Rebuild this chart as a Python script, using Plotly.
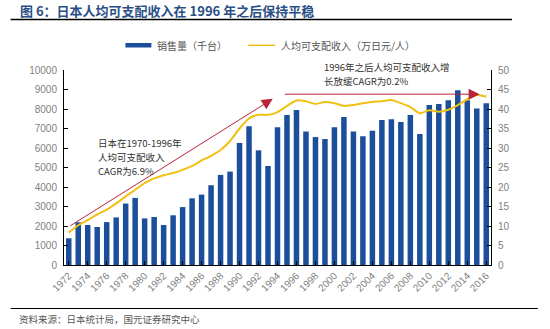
import plotly.graph_objects as go

# Japanese TV sales (thousand units) and per-capita disposable income (10k yen / person)
years = list(range(1972, 2017))
sales = [1370, 2190, 2050, 1950, 2200, 2440, 3150, 3440, 2390, 2460,
         2050, 2550, 2970, 3420, 3610, 4090, 4620, 4790, 6260, 7110,
         5880, 5080, 7060, 7690, 7950, 6850, 6560, 6460, 7060, 7590,
         6850, 6600, 6890, 7440, 7470, 7330, 7690, 6720, 8200, 8260,
         8450, 8960, 8450, 8030, 8290]
income = [8.3, 10.2, 11.5, 13.0, 14.2, 15.8, 17.6, 19.3, 21.0, 22.2,
          23.0, 23.6, 24.4, 25.4, 26.8, 28.0, 29.5, 31.8, 35.0, 37.6,
          38.5, 38.5, 39.2, 40.8, 42.2, 42.0, 41.3, 41.8, 41.5, 40.8,
          41.0, 41.5, 41.8, 42.0, 42.3, 41.5, 40.5, 38.9, 39.7, 39.3,
          39.8, 41.0, 42.5, 43.6, 43.2]
tick_years = list(range(1972, 2017, 2))
note_early = ["日本在1970-1996年", "人均可支配收入", "CAGR为6.9%"]
note_late = ["1996年之后人均可支配收入增", "长放缓CAGR为0.2%"]

W, H = 550, 329
L, R, T, B = 63.5, 59, 70, 64
PW, PH = W - L - R, H - T - B

BLUE = "#1B4F9C"
GOLD = "#F2C012"
GRAY = "#7F7F7F"
FONT = "Liberation Sans, Noto Sans CJK SC, sans-serif"
CJK = "Noto Sans CJK SC, sans-serif"


def px(x):
    return (x - L) / PW


def py(y):
    return (H - B - y) / PH


fig = go.Figure()
fig.add_trace(go.Bar(x=years, y=sales, name="销售量（千台）",
                     marker=dict(color=BLUE, line=dict(width=0)), width=0.58))
fig.add_trace(go.Scatter(x=years, y=income, name="人均可支配收入（万日元/人）",
                         yaxis="y2", mode="lines",
                         line=dict(color=GOLD, width=2, shape="spline", smoothing=0.6)))

axis_common = dict(showgrid=False, zeroline=False, showline=True, linecolor="black",
                   linewidth=1, ticks="inside", ticklen=4, tickcolor="black",
                   tickfont=dict(family=FONT, size=10, color=GRAY))

fig.update_layout(
    width=W, height=H,
    margin=dict(l=L, r=R, t=T, b=B),
    paper_bgcolor="white", plot_bgcolor="white",
    showlegend=False,
    bargap=0.4,
    xaxis=dict(axis_common, range=[1971.5, 2016.5], tickvals=tick_years,
               ticktext=[str(y) for y in tick_years], tickangle=-45),
    yaxis=dict(axis_common, range=[0, 10000], dtick=1000, tickformat="d",
               ticklabelstandoff=4),
    yaxis2=dict(axis_common, range=[0, 50], dtick=5, overlaying="y", side="right",
                ticklabelstandoff=4),
)

# trend arrows
fig.add_annotation(x=1993.5, y=42.6, ax=1972, ay=9.8, xref="x", yref="y2",
                   axref="x", ayref="y2", showarrow=True, arrowhead=2,
                   arrowsize=2.2, arrowwidth=1, arrowcolor="#B8243A", text="")
fig.add_annotation(x=2015.3, y=43.8, ax=1994.6, ay=43.8, xref="x", yref="y2",
                   axref="x", ayref="y2", showarrow=True, arrowhead=2,
                   arrowsize=2.2, arrowwidth=1, arrowcolor="#B8243A", text="")

# trend notes, one annotation per line
for i, line in enumerate(note_early):
    fig.add_annotation(x=px(96), y=py(143 + 14 * i), xref="paper", yref="paper",
                       xanchor="left", yanchor="middle", showarrow=False,
                       text=line, font=dict(family=CJK, size=9.5, color="#333333"))
for i, line in enumerate(note_late):
    fig.add_annotation(x=px(322), y=py(66.5 + 14 * i), xref="paper", yref="paper",
                       xanchor="left", yanchor="middle", showarrow=False,
                       text=line, font=dict(family=CJK, size=9.5, color="#333333"))

# legend
fig.add_shape(type="rect", xref="paper", yref="paper", x0=px(125), x1=px(151),
              y0=py(47.5), y1=py(43), fillcolor=BLUE, line=dict(width=0))
fig.add_annotation(x=px(155), y=py(45.3), xref="paper", yref="paper", xanchor="left",
                   yanchor="middle", showarrow=False, text="销售量（千台）",
                   font=dict(family=CJK, size=10, color="#555555"))
fig.add_shape(type="line", xref="paper", yref="paper", x0=px(248), x1=px(275),
              y0=py(45.3), y1=py(45.3), line=dict(color=GOLD, width=1.5))
fig.add_annotation(x=px(279), y=py(45.3), xref="paper", yref="paper", xanchor="left",
                   yanchor="middle", showarrow=False, text="人均可支配收入（万日元/人）",
                   font=dict(family=CJK, size=10, color="#555555"))

# heading and source
fig.add_annotation(x=px(17), y=py(10), xref="paper", yref="paper", xanchor="left",
                   yanchor="middle", showarrow=False,
                   text="<b>图 6：日本人均可支配收入在 1996 年之后保持平稳</b>",
                   font=dict(family=CJK, size=13, color="#2A4F86"))
fig.add_shape(type="line", xref="paper", yref="paper", x0=px(10), x1=px(512),
              y0=py(19.5), y1=py(19.5), line=dict(color="black", width=1.5))
fig.add_shape(type="line", xref="paper", yref="paper", x0=px(10), x1=px(538),
              y0=py(308.5), y1=py(308.5), line=dict(color="black", width=1.2))
fig.add_annotation(x=px(16), y=py(319), xref="paper", yref="paper", xanchor="left",
                   yanchor="middle", showarrow=False,
                   text="资料来源：日本统计局，国元证券研究中心",
                   font=dict(family=CJK, size=9.5, color="#555555"))

fig.write_html("out.html")
